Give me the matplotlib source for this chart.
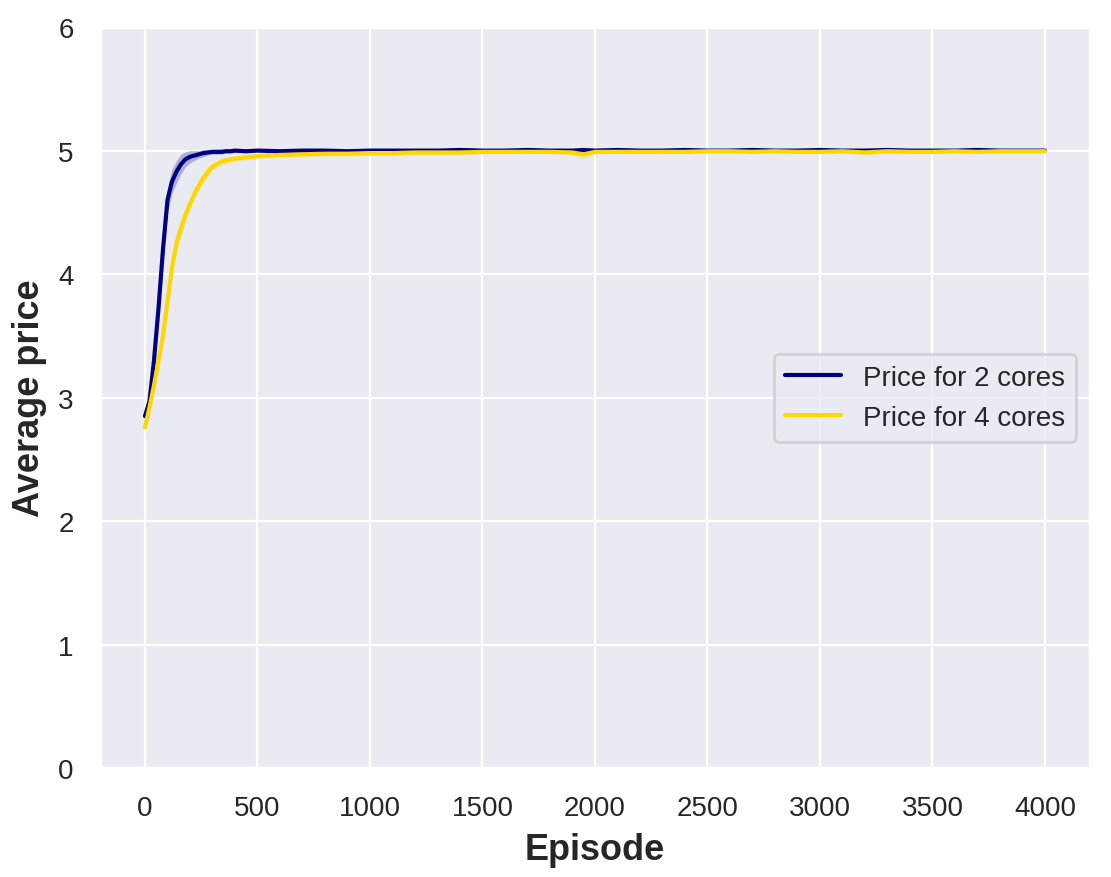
import numpy as np
import matplotlib
matplotlib.use("Agg")
import matplotlib.pyplot as plt
import seaborn as sns

sns.set_theme(style="darkgrid")
plt.rcParams['font.family'] = ['Liberation Sans', 'DejaVu Sans']
plt.rcParams['grid.linewidth'] = 0.8

episodes = [0, 20, 40, 60, 80, 100, 120, 140, 160, 180, 200, 220, 240, 260, 280,
            300, 320, 340, 360, 380, 400, 450, 500, 600, 700, 800, 900, 1000,
            1100, 1200, 1300, 1400, 1500, 1600, 1700, 1800, 1900, 1950, 2000,
            2100, 2200, 2300, 2400, 2500, 2600, 2700, 2800, 2900, 3000, 3100,
            3200, 3300, 3400, 3500, 3600, 3700, 3800, 3900, 4000]

price_2 = [2.85, 2.97, 3.30, 3.72, 4.20, 4.60, 4.75, 4.83, 4.89, 4.93, 4.95,
           4.96, 4.97, 4.98, 4.985, 4.99, 4.99, 4.99, 4.995, 4.995, 5.0, 4.995,
           5.0, 4.995, 5.0, 5.0, 4.995, 5.0, 5.0, 5.0, 5.0, 5.005, 5.0, 5.0,
           5.005, 5.0, 5.0, 5.005, 5.0, 5.005, 5.0, 5.0, 5.005, 5.0, 5.0,
           5.005, 5.0, 5.0, 5.005, 5.0, 5.0, 5.005, 5.0, 5.0, 5.0, 5.005, 5.0,
           5.0, 5.0]

price_4 = [2.76, 2.92, 3.10, 3.30, 3.50, 3.78, 4.05, 4.25, 4.37, 4.48, 4.57,
           4.65, 4.72, 4.78, 4.83, 4.87, 4.89, 4.91, 4.92, 4.93, 4.935, 4.945,
           4.955, 4.965, 4.97, 4.975, 4.975, 4.98, 4.98, 4.985, 4.985, 4.985,
           4.99, 4.99, 4.99, 4.99, 4.985, 4.97, 4.99, 4.99, 4.99, 4.99, 4.99,
           4.995, 4.995, 4.99, 4.995, 4.99, 4.99, 4.995, 4.985, 4.995, 4.99,
           4.99, 4.995, 4.99, 4.995, 4.995, 4.995]

# half-width of the shaded spread band
spread_2 = [0.03, 0.04, 0.06, 0.08, 0.09, 0.10, 0.10, 0.09, 0.08, 0.06, 0.05,
            0.04, 0.03, 0.03, 0.02, 0.02, 0.02, 0.02, 0.015, 0.015, 0.015,
            0.015, 0.01, 0.01, 0.01, 0.01, 0.01, 0.01, 0.01, 0.01, 0.01, 0.01,
            0.01, 0.01, 0.01, 0.01, 0.01, 0.01, 0.01, 0.01, 0.01, 0.01, 0.01,
            0.01, 0.01, 0.01, 0.01, 0.01, 0.01, 0.01, 0.01, 0.01, 0.01, 0.01,
            0.01, 0.01, 0.01, 0.01, 0.01]

spread_4 = [0.06, 0.05, 0.05, 0.06, 0.06, 0.06, 0.06, 0.06, 0.06, 0.05, 0.05,
            0.05, 0.04, 0.04, 0.04, 0.03, 0.03, 0.03, 0.03, 0.025, 0.025,
            0.02, 0.02, 0.02, 0.02, 0.02, 0.02, 0.02, 0.02, 0.02, 0.02, 0.02,
            0.015, 0.015, 0.015, 0.015, 0.02, 0.04, 0.015, 0.015, 0.015, 0.015,
            0.015, 0.015, 0.015, 0.015, 0.015, 0.015, 0.015, 0.015, 0.02,
            0.015, 0.015, 0.015, 0.015, 0.015, 0.015, 0.015, 0.015]

ep = np.array(episodes)
p2, p4 = np.array(price_2), np.array(price_4)
s2, s4 = np.array(spread_2), np.array(spread_4)

fig, ax = plt.subplots(figsize=(5.555, 4.39), dpi=200)
fig.subplots_adjust(left=0.09, right=0.981, top=0.968, bottom=0.124)

ax.fill_between(ep, p2 - s2, p2 + s2, color='navy', alpha=0.25, linewidth=0)
ax.plot(ep, p2, color='navy', linewidth=1.5, label='Price for 2 cores')
ax.fill_between(ep, p4 - s4, p4 + s4, color='gold', alpha=0.25, linewidth=0)
ax.plot(ep, p4, color='gold', linewidth=1.5, label='Price for 4 cores')

ax.set_ylim(0, 6)
ax.set_xticks(range(0, 4001, 500))
ax.tick_params(labelsize=10)
ax.set_xlabel('Episode', fontsize=13, fontweight='bold')
ax.set_ylabel('Average price', fontsize=13, fontweight='bold')
ax.legend(loc='center right', fontsize=10)

plt.savefig('out.png', dpi=200)
plt.close()
